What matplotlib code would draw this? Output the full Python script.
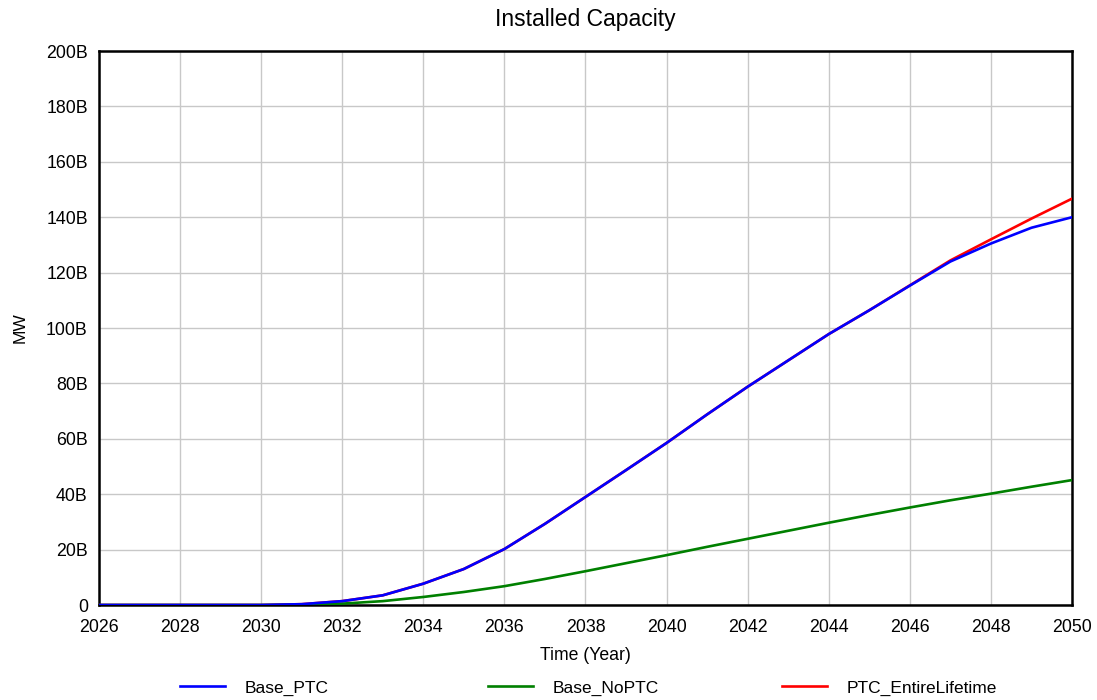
import matplotlib.pyplot as plt
from matplotlib.ticker import FuncFormatter, MultipleLocator

plt.rcParams['font.family'] = ['Liberation Sans', 'DejaVu Sans']

# values in billions of MW
years = list(range(2026, 2051))
base_ptc = [0, 0, 0, 0, 0, 0.3, 1.4, 3.5, 7.7, 13, 20.2, 29.3, 39, 48.7, 58.5,
            68.8, 78.8, 88.3, 97.8, 106.4, 115.3, 124, 130.5, 136.2, 140]
base_noptc = [0, 0, 0, 0, 0, 0.1, 0.5, 1.4, 2.9, 4.7, 6.8, 9.4, 12.2, 15.1, 18,
              21, 23.9, 26.8, 29.7, 32.5, 35.2, 37.8, 40.2, 42.7, 45.1]
ptc_lifetime = [0, 0, 0, 0, 0, 0.3, 1.4, 3.5, 7.7, 13, 20.2, 29.3, 39, 48.7, 58.5,
                68.8, 78.8, 88.3, 97.8, 106.4, 115.4, 124.4, 132, 139.5, 146.7]

fig = plt.figure(figsize=(10.97, 7), dpi=100)
ax = fig.add_axes([0.0902, 0.1357, 0.887, 0.7914])

h_red, = ax.plot(years, ptc_lifetime, color='#ff0000', lw=1.9, zorder=3)
h_green, = ax.plot(years, base_noptc, color='#008000', lw=1.9, zorder=4)
h_blue, = ax.plot(years, base_ptc, color='#0000ff', lw=1.9, zorder=5)

ax.set_xlim(2026, 2050)
ax.set_ylim(0, 200)
ax.xaxis.set_major_locator(MultipleLocator(2))
ax.yaxis.set_major_locator(MultipleLocator(20))
ax.yaxis.set_major_formatter(FuncFormatter(lambda v, p: '0' if v == 0 else f'{v:g}B'))
ax.grid(True, color='#c8c8c8', lw=1)
ax.tick_params(length=0, labelsize=12.8)
ax.tick_params(axis='x', pad=10)
ax.tick_params(axis='y', pad=8)
for s in ax.spines.values():
    s.set_linewidth(1.8)
    s.set_color('black')

ax.set_title('Installed Capacity', fontsize=16.5, pad=18)
ax.set_xlabel('Time (Year)', fontsize=12.7, labelpad=8)
ax.set_ylabel('MW', fontsize=12.5, labelpad=13)

# legend entries placed one by one under the chart
entries = [(h_blue, 'Base_PTC', 180), (h_green, 'Base_NoPTC', 488), (h_red, 'PTC_EntireLifetime', 782)]
for h, lab, x in entries:
    fig.legend([h], [lab], loc='center left', bbox_to_anchor=(x / 1097, 1 - 688 / 700),
               frameon=False, borderpad=0, borderaxespad=0, handlelength=2.6,
               handletextpad=1.15, fontsize=12.5)

fig.savefig('out.png', dpi=100)
